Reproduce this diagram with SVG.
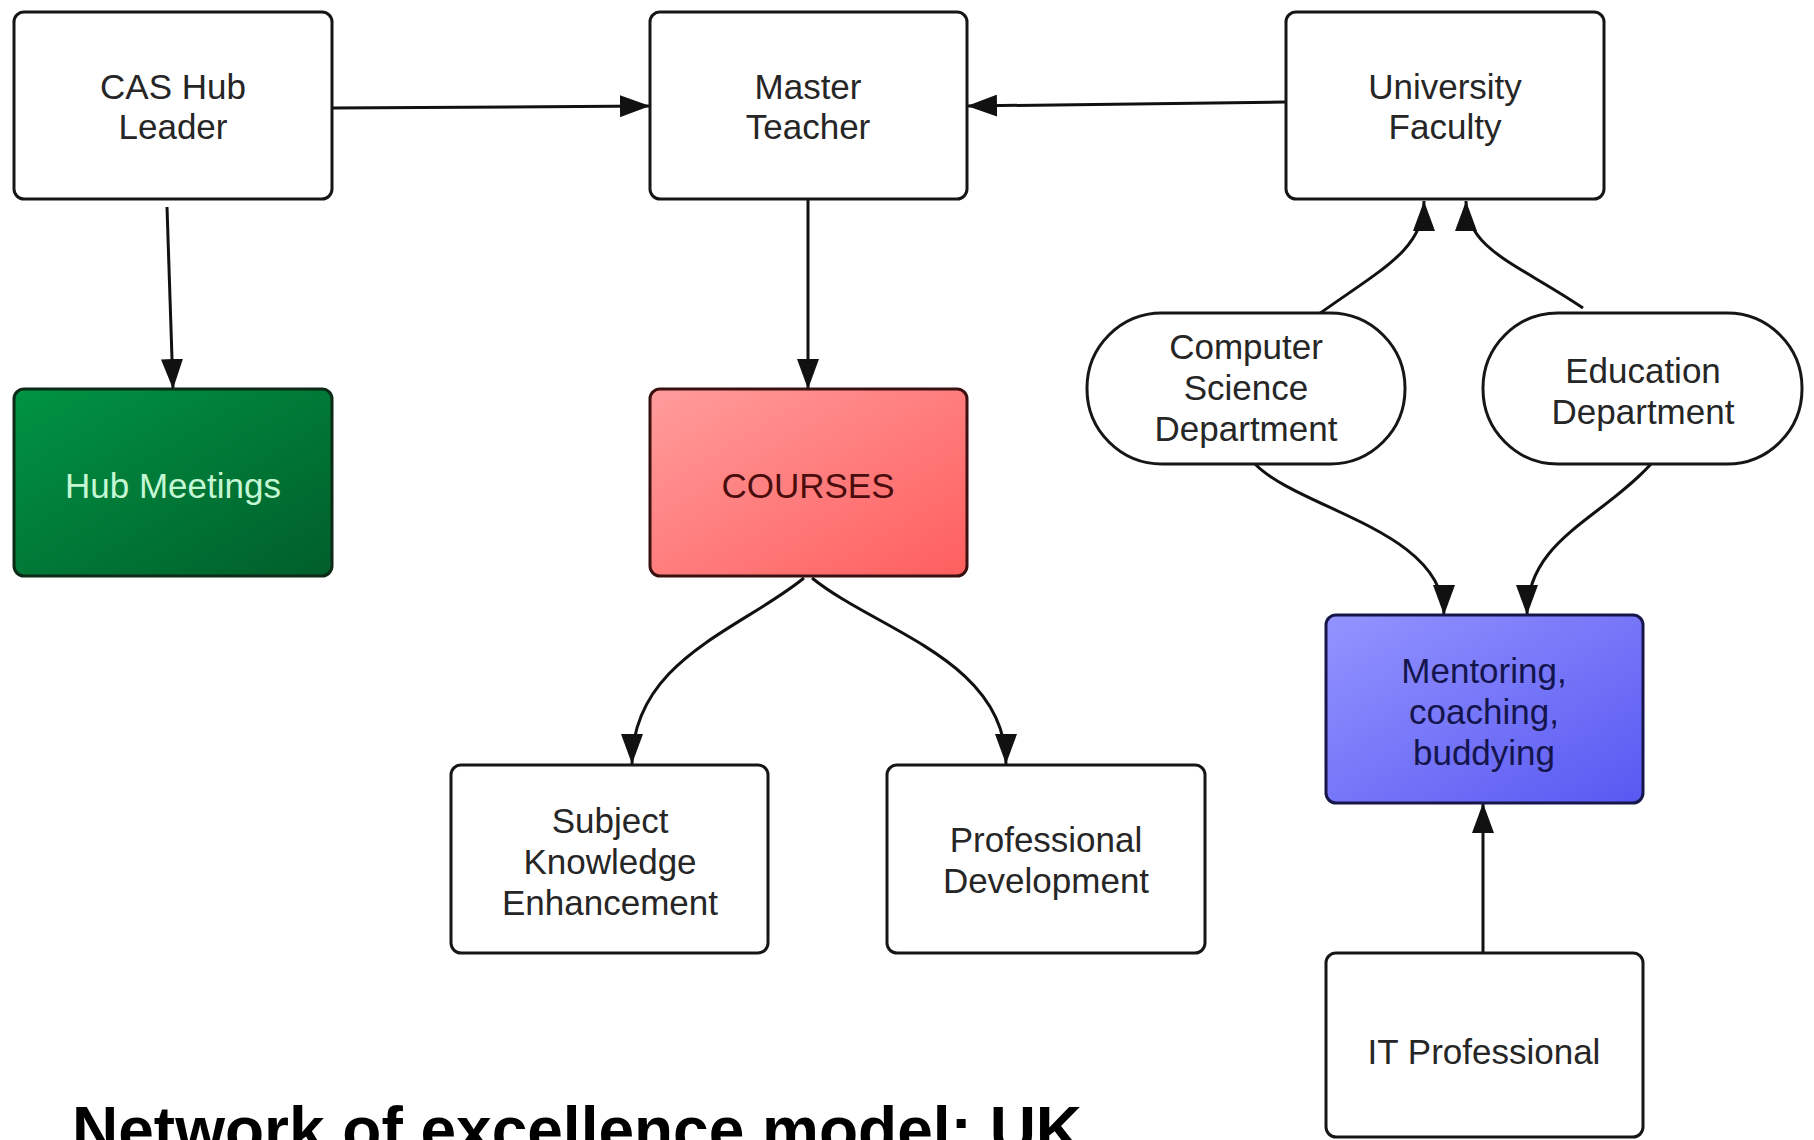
<svg xmlns="http://www.w3.org/2000/svg" width="1814" height="1140" viewBox="0 0 1814 1140">
<defs>
<style>
.box{fill:#fff;stroke:#161616;stroke-width:3}
.t{font-family:"Liberation Sans",Arial,sans-serif;font-size:35px;fill:#262626;text-anchor:middle}
.c{fill:none;stroke:#111;stroke-width:3;marker-end:url(#ah)}
</style>
<marker id="ah" markerUnits="userSpaceOnUse" markerWidth="30" markerHeight="22" refX="30" refY="11" orient="auto">
<path d="M0,0 L30,11 L0,22 z" fill="#111"/>
</marker>
<linearGradient id="gGreen" x1="0" y1="0" x2="1" y2="1">
<stop offset="0" stop-color="#009444"/><stop offset="1" stop-color="#005e2a"/>
</linearGradient>
<linearGradient id="gRed" x1="0" y1="0" x2="1" y2="1">
<stop offset="0" stop-color="#ff9c9c"/><stop offset="1" stop-color="#ff5e5e"/>
</linearGradient>
<linearGradient id="gBlue" x1="0" y1="0" x2="1" y2="1">
<stop offset="0" stop-color="#9494ff"/><stop offset="1" stop-color="#5858f2"/>
</linearGradient>
</defs>
<rect width="1814" height="1140" fill="#fff"/>
<g id="connectors">
<path class="c" d="M332,108 L650,106"/>
<path class="c" d="M1285,102 L967,106"/>
<path class="c" d="M167,207 L173,389"/>
<path class="c" d="M808,199 L808,389"/>
<path class="c" d="M804,578 C740,630 632,660 632,764"/>
<path class="c" d="M812,578 C876,630 1006,660 1006,764"/>
<path class="c" d="M1319,314 C1380,270 1424,250 1424,201"/>
<path class="c" d="M1583,308 C1520,265 1466,250 1466,201"/>
<path class="c" d="M1255,464 C1300,510 1444,530 1444,615"/>
<path class="c" d="M1651,464 C1600,520 1527,540 1527,615"/>
<path class="c" d="M1483,953 L1483,803"/>
</g>
<g id="cas-hub-leader">
<rect class="box" x="14" y="12" width="318" height="187" rx="10"/>
<text class="t" x="173" y="99">CAS Hub</text>
<text class="t" x="173" y="139">Leader</text>
</g>
<g id="master-teacher">
<rect class="box" x="650" y="12" width="317" height="187" rx="10"/>
<text class="t" x="808" y="99">Master</text>
<text class="t" x="808" y="139">Teacher</text>
</g>
<g id="university-faculty">
<rect class="box" x="1286" y="12" width="318" height="187" rx="10"/>
<text class="t" x="1445" y="99">University</text>
<text class="t" x="1445" y="139">Faculty</text>
</g>
<g id="hub-meetings">
<rect x="14" y="389" width="318" height="187" rx="10" fill="url(#gGreen)" stroke="#0d2a17" stroke-width="3"/>
<text class="t" x="173" y="498" style="fill:#c4f7d4">Hub Meetings</text>
</g>
<g id="courses">
<rect x="650" y="389" width="317" height="187" rx="10" fill="url(#gRed)" stroke="#3a1010" stroke-width="3"/>
<text class="t" x="808" y="498" style="fill:#4a0c0c">COURSES</text>
</g>
<g id="cs-department">
<rect class="box" x="1087" y="313" width="318" height="151" rx="75"/>
<text class="t" x="1246" y="359">Computer</text>
<text class="t" x="1246" y="400">Science</text>
<text class="t" x="1246" y="441">Department</text>
</g>
<g id="education-department">
<rect class="box" x="1483" y="313" width="319" height="151" rx="75"/>
<text class="t" x="1643" y="383">Education</text>
<text class="t" x="1643" y="424">Department</text>
</g>
<g id="mentoring">
<rect x="1326" y="615" width="317" height="188" rx="10" fill="url(#gBlue)" stroke="#16164a" stroke-width="3"/>
<text class="t" x="1484" y="683" style="fill:#15154d">Mentoring,</text>
<text class="t" x="1484" y="724" style="fill:#15154d">coaching,</text>
<text class="t" x="1484" y="765" style="fill:#15154d">buddying</text>
</g>
<g id="subject-knowledge">
<rect class="box" x="451" y="765" width="317" height="188" rx="10"/>
<text class="t" x="610" y="833">Subject</text>
<text class="t" x="610" y="874">Knowledge</text>
<text class="t" x="610" y="915">Enhancement</text>
</g>
<g id="professional-development">
<rect class="box" x="887" y="765" width="318" height="188" rx="10"/>
<text class="t" x="1046" y="852">Professional</text>
<text class="t" x="1046" y="893">Development</text>
</g>
<g id="it-professional">
<rect class="box" x="1326" y="953" width="317" height="184" rx="10"/>
<text class="t" x="1484" y="1064">IT Professional</text>
</g>
<text x="72" y="1152" style="font-family:'Liberation Sans',Arial,sans-serif;font-size:64px;font-weight:bold;fill:#000">Network of excellence model: UK</text>
</svg>
